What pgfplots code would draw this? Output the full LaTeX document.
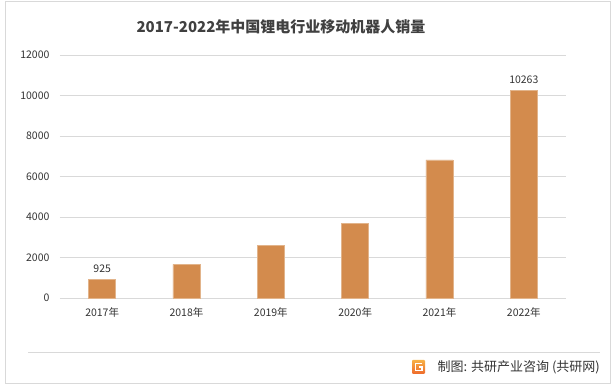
\documentclass[border=0pt]{standalone}
\usepackage{fontspec}
\setmainfont{Noto Sans CJK SC}
\usepackage{pgfplots}
\pgfplotsset{compat=1.18}
\definecolor{barc}{HTML}{D38B4D}
\definecolor{gridc}{HTML}{D9D9D9}
\definecolor{txt}{HTML}{333333}
\definecolor{ttl}{HTML}{404040}
\definecolor{logoA}{HTML}{F7B046}
\definecolor{logoB}{HTML}{EE6A2C}
\begin{document}
\begin{tikzpicture}[x=1pt,y=1pt]
\path[use as bounding box] (0,0) rectangle (614,387);
\draw[gridc, line width=1pt] (5.5,3.5) rectangle (610,385.5);
\node[font=\fontsize{15}{18}\selectfont\bfseries, text=ttl] at (281,360) {2017-2022年中国锂电行业移动机器人销量};
\begin{axis}[
  at={(60pt,89pt)}, anchor=south west,
  width=506pt, height=243pt, scale only axis,
  xmin=-0.5, xmax=5.5, ymin=0, ymax=12000,
  ytick={0,2000,4000,6000,8000,10000,12000},
  xtick={0,1,2,3,4,5},
  xticklabels={2017年,2018年,2019年,2020年,2021年,2022年},
  axis line style={draw=none},
  tick style={draw=none},
  ymajorgrids, grid style={gridc, line width=0.8pt},
  /pgf/number format/assume math mode=true,
  scaled y ticks=false,
  yticklabel style={/pgf/number format/fixed, /pgf/number format/1000 sep={}, font=\fontsize{10.5}{12}\selectfont, text=txt, xshift=-7pt},
  xticklabel style={font=\fontsize{10.5}{12}\selectfont, text=txt, yshift=-6pt},
  clip=false,
]
\addplot[ybar, bar width=27pt, fill=barc, draw=barc!65!white, line width=0.6pt] coordinates {(0,925) (1,1660) (2,2610) (3,3700) (4,6820) (5,10263)};
\addplot[only marks, mark=none, nodes near coords, point meta=explicit symbolic,
  every node near coord/.append style={font=\fontsize{10.5}{12}\selectfont, text=txt, anchor=south, yshift=3pt}]
  coordinates {(0,925) [925] (5,10263) [10263]};
\end{axis}
\draw[gridc, line width=0.8pt] (28,35) -- (600,35);
\shade[top color=logoA, bottom color=logoB, rounded corners=1pt] (412,13) rectangle (425,27);
\draw[white, line width=1.6pt] (422,23.5) -- (415.5,23.5) -- (415.5,16.5) -- (422,16.5) -- (422,20) -- (419,20);
\node[anchor=east, font=\fontsize{13}{15}\selectfont, text=black!80, inner sep=0pt] at (600,20) {制图: 共研产业咨询 (共研网)};
\end{tikzpicture}
\end{document}
